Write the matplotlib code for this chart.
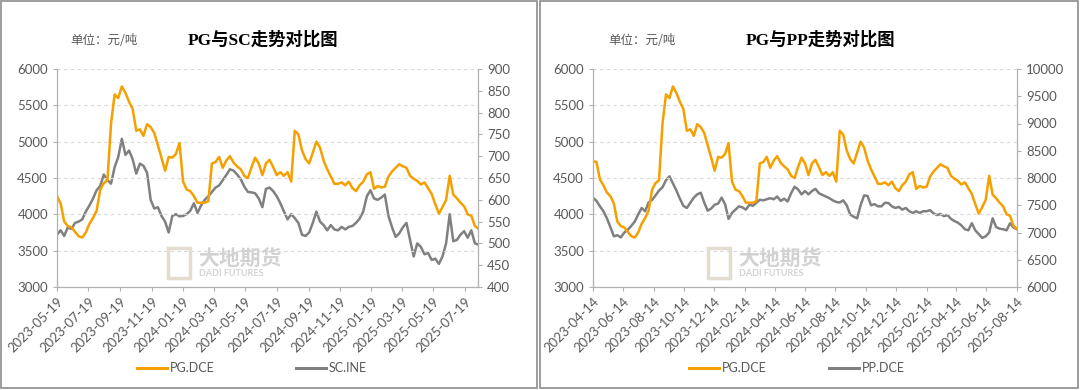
import matplotlib
matplotlib.use("Agg")
import matplotlib.pyplot as plt
import pandas as pd
from matplotlib.lines import Line2D
from matplotlib.patches import Rectangle

plt.rcParams['font.family'] = ['Lato', 'Noto Sans CJK SC', 'DejaVu Sans']

# weekly readings (Fridays) starting 2023-04-14
pg_dce = [4730, 4720, 4480, 4400, 4300, 4250, 4150, 3900, 3840, 3820,
          3760, 3700, 3680, 3750, 3870, 3950, 4050, 4340, 4430, 4470,
          5250, 5650, 5600, 5760, 5670, 5550, 5450, 5150, 5170, 5080,
          5240, 5200, 5120, 4950, 4780, 4600, 4790, 4780, 4830, 4980,
          4450, 4340, 4320, 4250, 4160, 4160, 4160, 4180, 4700, 4720,
          4790, 4640, 4740, 4800, 4710, 4660, 4620, 4530, 4500, 4650,
          4780, 4700, 4540, 4700, 4750, 4650, 4540, 4580, 4530, 4580,
          4450, 5150, 5100, 4880, 4760, 4700, 4850, 5000, 4920, 4740,
          4620, 4520, 4420, 4420, 4440, 4400, 4450, 4360, 4320, 4400,
          4450, 4550, 4580, 4350, 4390, 4370, 4380, 4520, 4590, 4640,
          4690, 4660, 4640, 4530, 4490, 4460, 4410, 4440, 4360, 4280,
          4140, 4010, 4100, 4200, 4530, 4270, 4220, 4160, 4110, 4000,
          3980, 3840, 3800]

# SC.INE weekly from 2023-05-19
sc_ine = [520, 530, 517, 537, 533, 547, 550, 555, 573, 587,
          603, 622, 632, 658, 645, 637, 675, 698, 740, 703,
          713, 693, 660, 683, 678, 662, 600, 580, 583, 563,
          550, 525, 563, 567, 562, 563, 567, 575, 592, 570,
          587, 600, 608, 618, 628, 633, 645, 657, 670, 667,
          658, 647, 630, 618, 617, 615, 603, 583, 625, 628,
          620, 608, 592, 573, 555, 567, 558, 547, 520, 517,
          525, 547, 573, 550, 542, 530, 542, 532, 530, 538,
          532, 538, 540, 547, 557, 573, 608, 622, 603, 600,
          605, 612, 563, 537, 515, 523, 537, 547, 508, 470,
          500, 492, 475, 478, 462, 465, 453, 470, 500, 567,
          505, 508, 520, 528, 513, 530, 500, 497]

# PP.DCE weekly from 2023-04-14
pp_dce = [7640, 7580, 7480, 7390, 7260, 7100, 6930, 6950, 6910, 7000,
          7050, 7120, 7200, 7330, 7450, 7390, 7550, 7600, 7680, 7770,
          7830, 7960, 8030, 7900, 7770, 7620, 7490, 7450, 7545, 7640,
          7700, 7730, 7550, 7400, 7440, 7510, 7530, 7640, 7520, 7250,
          7360, 7420, 7480, 7460, 7420, 7510, 7490, 7545, 7600, 7590,
          7610, 7630, 7610, 7660, 7580, 7620, 7570, 7720, 7840, 7790,
          7700, 7760, 7700, 7760, 7800, 7720, 7690, 7660, 7630, 7590,
          7560, 7550, 7590, 7500, 7330, 7290, 7260, 7500, 7680, 7670,
          7500, 7520, 7480, 7480, 7545, 7540, 7480, 7450, 7470, 7420,
          7450, 7390, 7360, 7390, 7360, 7390, 7390, 7410, 7350, 7320,
          7340, 7300, 7320, 7250, 7210, 7180, 7130, 7060, 7040, 7170,
          7040, 6970, 6900, 6930, 7000, 7260, 7100, 7070, 7060, 7040,
          7170, 7090, 7060]

left_ticks = ['2023-05-19', '2023-07-19', '2023-09-19', '2023-11-19', '2024-01-19',
              '2024-03-19', '2024-05-19', '2024-07-19', '2024-09-19', '2024-11-19',
              '2025-01-19', '2025-03-19', '2025-05-19', '2025-07-19']
right_ticks = ['2023-04-14', '2023-06-14', '2023-08-14', '2023-10-14', '2023-12-14',
               '2024-02-14', '2024-04-14', '2024-06-14', '2024-08-14', '2024-10-14',
               '2024-12-14', '2025-02-14', '2025-04-14', '2025-06-14', '2025-08-14']

pg_dates = pd.date_range('2023-04-14', periods=len(pg_dce), freq='7D')
sc_dates = pd.date_range('2023-05-19', periods=len(sc_ine), freq='7D')
pp_dates = pd.date_range('2023-04-14', periods=len(pp_dce), freq='7D')

ORANGE = '#F5A000'
GREY = '#808080'
TICKC = '#595959'
AXC = '#b0b0b0'

W, H = 1080, 390
fig = plt.figure(figsize=(10.8, 3.9), dpi=100)

def fx(px):
    return px / W

def fy(py):
    return 1 - py / H

# panel borders
for x0, x1 in [(1, 537), (540, 1078)]:
    fig.patches.append(Rectangle((fx(x0), fy(388)), fx(x1 - x0), (388 - 1) / H,
                                 transform=fig.transFigure, fill=False,
                                 edgecolor='#8c8c8c', lw=1.2))


def style(ax, axr, ticks, xmin, xmax):
    ax.set_xlim(pd.Timestamp(xmin), pd.Timestamp(xmax))
    ax.set_ylim(3000, 6000)
    ax.set_yticks(range(3000, 6001, 500))
    ax.yaxis.grid(True, ls=(0, (3, 3)), color='#d9d9d9', lw=0.8)
    ax.set_axisbelow(True)
    ax.set_xticks(pd.to_datetime(ticks))
    ax.set_xticklabels(ticks, rotation=45, ha='right', rotation_mode='anchor')
    for a in (ax, axr):
        a.spines['top'].set_visible(False)
        for s in ('left', 'right', 'bottom'):
            a.spines[s].set_color(AXC)
        a.tick_params(colors=AXC, labelcolor=TICKC, labelsize=9.5, length=3, width=0.8)
    ax.tick_params(axis='x', pad=3)
    ax.set_zorder(axr.get_zorder() + 1)
    ax.patch.set_visible(False)


def watermark(x0):
    fig.patches.append(Rectangle((fx(x0), fy(278)), fx(22), 30 / H,
                                 transform=fig.transFigure, fill=False,
                                 edgecolor='#e3dccf', lw=2.5))
    fig.text(fx(x0 + 30), fy(258), '大地期货', fontsize=15, color='#d2d2d2',
             fontweight='bold', va='center', family=['Noto Sans CJK SC'])
    fig.text(fx(x0 + 31), fy(274), 'DADI FUTURES', fontsize=6.5, color='#d2d2d2',
             fontweight='bold', va='center')


# left panel: PG vs SC
ax1 = fig.add_axes([fx(57), fy(287), fx(421), 218 / H])
ax1r = ax1.twinx()
ax1r.plot(sc_dates, sc_ine, color=GREY, lw=1.8)
ax1.plot(pg_dates, pg_dce, color=ORANGE, lw=1.8)
ax1r.set_ylim(400, 900)
ax1r.set_yticks(range(400, 901, 50))
style(ax1, ax1r, left_ticks, '2023-05-19', '2025-08-14')

# right panel: PG vs PP
ax2 = fig.add_axes([fx(593), fy(287), fx(424), 218 / H])
ax2r = ax2.twinx()
ax2r.plot(pp_dates, pp_dce, color=GREY, lw=1.8)
ax2.plot(pg_dates, pg_dce, color=ORANGE, lw=1.8)
ax2r.set_ylim(6000, 10000)
ax2r.set_yticks(range(6000, 10001, 500))
style(ax2, ax2r, right_ticks, '2023-04-14', '2025-08-15')

watermark(168)
watermark(708)

# titles and units
title_font = ['Liberation Serif', 'Noto Sans CJK SC']
fig.text(fx(263), fy(40), 'PG与SC走势对比图', ha='center', va='center',
         fontsize=12.5, fontweight='bold', family=title_font)
fig.text(fx(821), fy(40), 'PG与PP走势对比图', ha='center', va='center',
         fontsize=12.5, fontweight='bold', family=title_font)
fig.text(fx(70), fy(40), '单位：元/吨', ha='left', va='center', fontsize=9,
         color=TICKC, family=['Noto Sans CJK SC'])
fig.text(fx(608), fy(40), '单位：元/吨', ha='left', va='center', fontsize=9,
         color=TICKC, family=['Noto Sans CJK SC'])

# legends
for cx, labels, gap in [(252, ['PG.DCE', 'SC.INE'], 6.5), (797, ['PG.DCE', 'PP.DCE'], 5.0)]:
    handles = [Line2D([], [], color=ORANGE, lw=2.2), Line2D([], [], color=GREY, lw=2.2)]
    fig.legend(handles, labels, loc='center', bbox_to_anchor=(fx(cx), fy(368)),
               ncol=2, frameon=False, fontsize=9, handlelength=2.4,
               handletextpad=0.2, columnspacing=gap, labelcolor=TICKC)

fig.savefig('out.png', dpi=100)
